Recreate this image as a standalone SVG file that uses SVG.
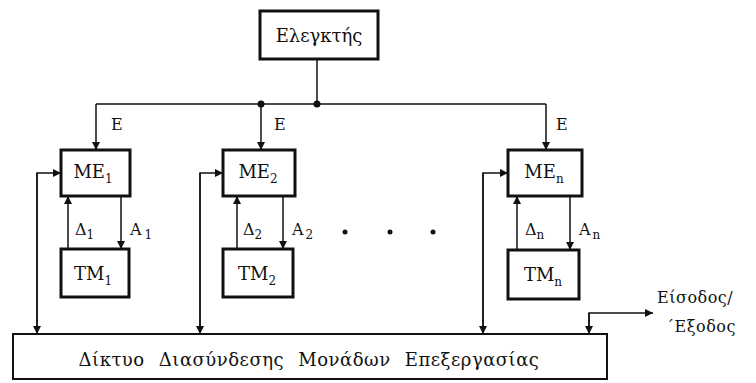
<svg xmlns="http://www.w3.org/2000/svg" width="756" height="383" viewBox="0 0 756 383">
<defs>
<marker id="ah" viewBox="0 0 10 10" refX="10" refY="5" markerWidth="9" markerHeight="8" markerUnits="userSpaceOnUse" orient="auto"><path d="M0,0 L10,5 L0,10 Z" fill="#111"/></marker>
</defs>
<style>
.box{fill:#fff;stroke:#111;stroke-width:3}
.bus{fill:#fff;stroke:#111;stroke-width:2}
.ln{fill:none;stroke:#111;stroke-width:1.5}
.ar{fill:none;stroke:#111;stroke-width:1.5;marker-end:url(#ah)}
text{fill:#111;font-family:"DejaVu Serif",serif}
.t{font-size:18px;text-anchor:middle}
.lb{font-size:16px}
.sub{font-size:12px}
</style>
<g id="connectors">
<path class="ln" d="M317,59 V104"/>
<path class="ln" d="M96,104 H546"/>
<circle cx="261" cy="104" r="3.5" fill="#111"/>
<circle cx="317" cy="104" r="3.5" fill="#111"/>
<path class="ar" d="M96,104 V150"/>
<path class="ar" d="M261,104 V150"/>
<path class="ar" d="M546,104 V150"/>
<path class="ar" d="M68,249 V196"/>
<path class="ar" d="M121,196 V249"/>
<path class="ar" d="M237,249 V196"/>
<path class="ar" d="M283,196 V249"/>
<path class="ar" d="M517,249 V196"/>
<path class="ar" d="M570,196 V250"/>
<path class="ar" d="M37,334 V173 H61"/>
<path class="ar" d="M37,173 V334"/>
<path class="ar" d="M200,334 V173 H223"/>
<path class="ar" d="M200,173 V334"/>
<path class="ar" d="M483,334 V173 H508"/>
<path class="ar" d="M483,173 V334"/>
<path class="ar" d="M589,313 V334"/>
<path class="ar" d="M589,334 V313 H653"/>
<circle cx="345" cy="232" r="2.5" fill="#111"/>
<circle cx="390" cy="232" r="2.5" fill="#111"/>
<circle cx="433" cy="232" r="2.5" fill="#111"/>
</g>
<g id="controller">
<rect class="box" x="260" y="11" width="118" height="48"/>
<text class="t" x="319" y="42">Ελεγκτής</text>
</g>
<g id="labels-E">
<text class="lb" x="111" y="130">E</text>
<text class="lb" x="274" y="130">E</text>
<text class="lb" x="556" y="130">E</text>
</g>
<g id="me1">
<rect class="box" x="61" y="150" width="69" height="46"/>
<text class="t" x="93" y="178">ME<tspan class="sub" dy="5">1</tspan></text>
</g>
<g id="tm1">
<rect class="box" x="61" y="249" width="68" height="48"/>
<text class="t" x="93" y="280">TM<tspan class="sub" dy="5">1</tspan></text>
</g>
<g id="me2">
<rect class="box" x="223" y="150" width="72" height="46"/>
<text class="t" x="258" y="178">ME<tspan class="sub" dy="5">2</tspan></text>
</g>
<g id="tm2">
<rect class="box" x="223" y="249" width="70" height="48"/>
<text class="t" x="257" y="280">TM<tspan class="sub" dy="5">2</tspan></text>
</g>
<g id="men">
<rect class="box" x="508" y="150" width="74" height="46"/>
<text class="t" x="544" y="178">ME<tspan class="sub" dy="5">n</tspan></text>
</g>
<g id="tmn">
<rect class="box" x="508" y="250" width="71" height="49"/>
<text class="t" x="543" y="281">TM<tspan class="sub" dy="5">n</tspan></text>
</g>
<g id="edge-labels">
<text class="lb" x="75" y="235">Δ<tspan class="sub" dy="4">1</tspan></text>
<text class="lb" x="130" y="235">A<tspan class="sub" dy="4" dx="3">1</tspan></text>
<text class="lb" x="243" y="235">Δ<tspan class="sub" dy="4">2</tspan></text>
<text class="lb" x="292" y="235">A<tspan class="sub" dy="4" dx="2">2</tspan></text>
<text class="lb" x="525" y="235">Δ<tspan class="sub" dy="4">n</tspan></text>
<text class="lb" x="579" y="235">A<tspan class="sub" dy="4" dx="2">n</tspan></text>
</g>
<g id="bus">
<rect class="bus" x="13" y="334" width="594" height="45"/>
<text class="t" x="309" y="366" font-size="17" word-spacing="8" letter-spacing="0.5">Δίκτυο Διασύνδεσης Μονάδων Επεξεργασίας</text>
</g>
<g id="io">
<text class="lb" x="657" y="303" font-size="19" letter-spacing="0.5">Είσοδος/</text>
<text class="lb" x="666" y="332" font-size="19" letter-spacing="0.5">΄Εξοδος</text>
</g>
</svg>
